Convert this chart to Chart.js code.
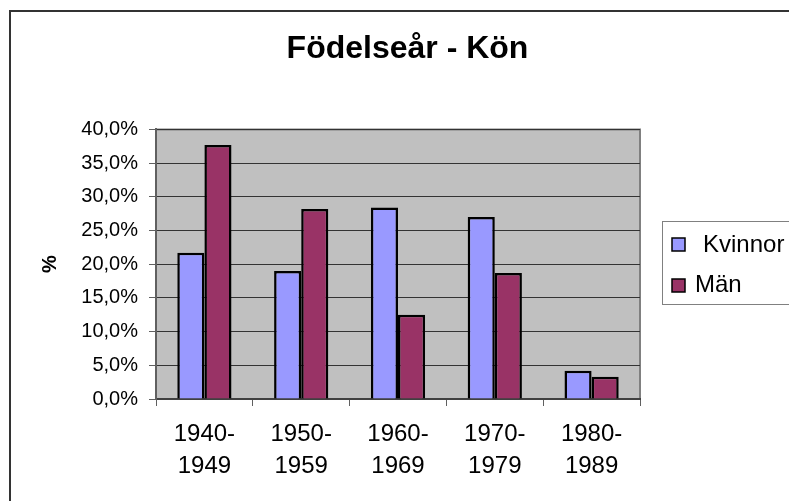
<!DOCTYPE html>
<html>
<head>
<meta charset="utf-8">
<style>
  html, body { margin: 0; padding: 0; background: #ffffff; }
  canvas { display: block; }
</style>
<script src="https://cdn.jsdelivr.net/npm/chart.js@4/dist/chart.umd.min.js"></script>
</head>
<body>
<canvas id="c" width="789" height="501"></canvas>
<script>
const chartTitle = "Födelseår - Kön";
const yAxisTitle = "%";
const categories = [["1940-", "1949"], ["1950-", "1959"], ["1960-", "1969"], ["1970-", "1979"], ["1980-", "1989"]];
const seriesNames = ["Kvinnor", "Män"];
const kvinnor = [21.7, 19.0, 28.4, 27.0, 4.2];
const man = [37.7, 28.2, 12.5, 18.7, 3.3];
const yMin = 0, yMax = 40, yStep = 5;

const FONT = "'Liberation Sans', Arial, sans-serif";
const colors = ["#9999FF", "#993366"];

const plotBg = {
  id: "plotBg",
  beforeDraw(chart) {
    const {ctx, chartArea: a} = chart;
    ctx.save();
    ctx.strokeStyle = "#333333";
    ctx.lineWidth = 2;
    ctx.strokeRect(10, 11, 900, 700);
    ctx.fillStyle = "#C0C0C0";
    ctx.fillRect(a.left, a.top, a.right - a.left, a.bottom - a.top);
    ctx.strokeStyle = "#808080";
    ctx.lineWidth = 2;
    ctx.beginPath();
    ctx.moveTo(a.left, a.top);
    ctx.lineTo(a.right, a.top);
    ctx.lineTo(a.right, a.bottom);
    ctx.stroke();
    ctx.restore();
  },
  afterDraw(chart) {
    const {ctx} = chart;
    ctx.save();
    ctx.strokeStyle = "#808080";
    ctx.lineWidth = 1;
    ctx.strokeRect(662.5, 221.5, 200, 83);
    const items = [
      {sx: 672, sy: 238, tx: 703, ty: 252, text: chart.data.datasets[0].label},
      {sx: 672, sy: 279, tx: 695, ty: 292, text: chart.data.datasets[1].label}
    ];
    ctx.font = "24px " + FONT;
    ctx.textBaseline = "alphabetic";
    ctx.textAlign = "left";
    items.forEach((it, i) => {
      ctx.fillStyle = chart.data.datasets[i].backgroundColor;
      ctx.fillRect(it.sx, it.sy, 13, 13);
      ctx.strokeStyle = "#000";
      ctx.lineWidth = 1.5;
      ctx.strokeRect(it.sx, it.sy, 13, 13);
      ctx.fillStyle = "#000";
      ctx.fillText(it.text, it.tx, it.ty);
    });
    ctx.restore();
  }
};

new Chart(document.getElementById("c"), {
  type: "bar",
  data: {
    labels: categories,
    datasets: [
      {label: seriesNames[0], data: kvinnor, backgroundColor: colors[0], borderColor: "#000", borderWidth: 2.5},
      {label: seriesNames[1], data: man, backgroundColor: colors[1], borderColor: "#000", borderWidth: 2.5}
    ]
  },
  options: {
    responsive: false,
    animation: false,
    events: [],
    layout: {padding: {left: 26, right: 0, top: 0, bottom: 0}},
    datasets: {bar: {categoryPercentage: 0.56, barPercentage: 1.0}},
    plugins: {
      legend: {display: false},
      tooltip: {enabled: false},
      title: {
        display: true,
        text: chartTitle,
        color: "#000",
        font: {family: FONT, size: 32, weight: "bold", lineHeight: 1.2},
        padding: {top: 30, bottom: 61}
      }
    },
    scales: {
      x: {
        grid: {display: true, drawOnChartArea: false, drawTicks: true, tickLength: 7, color: "#606060", lineWidth: 1, offset: true},
        border: {display: true, color: "#404040", width: 2},
        ticks: {color: "#000", font: {family: FONT, size: 24, lineHeight: 1.32}, padding: 13, maxRotation: 0, autoSkip: false},
        afterFit(s) { s.height = 102; }
      },
      y: {
        min: yMin, max: yMax,
        grid: {color: "#333333", lineWidth: 1, drawTicks: true, tickLength: 7, tickColor: "#606060"},
        border: {display: true, color: "#606060", width: 2},
        ticks: {
          stepSize: yStep, color: "#000", padding: 11,
          font: {family: FONT, size: 20},
          callback: v => v.toFixed(1).replace(".", ",") + "%"
        },
        title: {display: true, text: yAxisTitle, color: "#000", font: {family: FONT, size: 20, weight: "bold"}, padding: {top: 12, bottom: 0}},
        afterFit(s) { s.width = 130; }
      },
      yRight: {
        type: "linear",
        position: "right",
        display: true,
        grid: {display: false, drawTicks: false},
        border: {display: false},
        ticks: {display: false},
        afterFit(s) { s.width = 149; }
      }
    }
  },
  plugins: [plotBg]
});
</script>
</body>
</html>
